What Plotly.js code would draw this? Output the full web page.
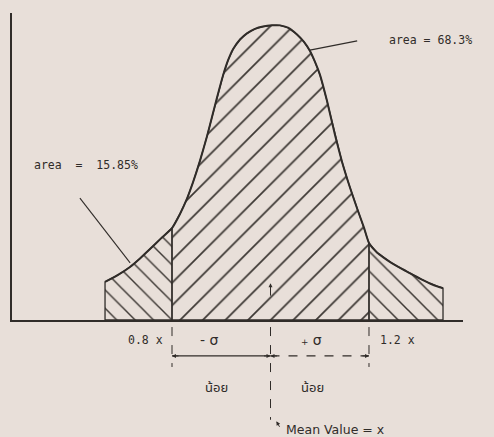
<!DOCTYPE html>
<html>
<head>
<meta charset="utf-8">
<script src="https://cdn.plot.ly/plotly-3.0.1.min.js"></script>
<style>
  html, body { margin: 0; padding: 0; background: #e8dfd9; }
  #chart { width: 494px; height: 437px; }
</style>
</head>
<body>
<div id="chart"></div>
<script>
// Bell-shaped distribution; x in percent of the mean value x (mean = 100, one sigma = 20)
const curveX = [66.40, 69.04, 71.47, 73.50, 75.53, 77.77, 80.00, 81.62, 83.05, 84.26,
                85.69, 87.11, 88.12, 89.14, 90.36, 91.37, 92.39, 93.81, 95.23, 96.85,
                98.48, 100.30, 101.93, 103.55, 105.38, 106.80, 108.02, 109.04, 110.05, 111.47,
                113.10, 114.52, 115.74, 116.75, 117.77, 118.98, 120.00, 121.62, 123.05, 124.47,
                125.69, 127.31, 128.93, 130.56, 132.39, 133.81, 135.03];
const curveY = [12.9, 15.3, 18.0, 20.9, 24.1, 27.7, 31.2, 36.0, 41.2, 46.7,
                54.1, 62.4, 68.9, 75.5, 83.0, 88.1, 91.9, 95.2, 97.3, 98.8,
                99.6, 100.0, 100.0, 99.2, 96.9, 94.4, 91.3, 87.6, 83.2, 74.4,
                62.8, 53.7, 47.0, 41.9, 37.0, 31.4, 26.1, 22.9, 21.1, 19.5,
                18.3, 16.8, 15.3, 13.9, 12.4, 11.4, 10.8];

const meanValue = 100;
const sigmaBounds = [80, 120];           // mean - sigma, mean + sigma
const boundLabels = ['0.8 x', '1.2 x'];
const sigmaLabels = ['- σ', '₊ σ'];
const areaLabels = ['area  =  15.85%', 'area = 68.3%'];
const bandLabel = 'น้อย';
const meanLabel = 'Mean Value = x';

const ink = '#302c29';
const hatchInk = '#3d3834';
const mono = 'DejaVu Sans Mono, Liberation Mono, monospace';
const thai = 'Noto Sans Thai, Noto Sans, DejaVu Sans, sans-serif';

// closed outline of the area under the curve between lo and hi
function band(lo, hi) {
  const xs = [], ys = [];
  curveX.forEach((x, i) => { if (x >= lo && x <= hi) { xs.push(x); ys.push(curveY[i]); } });
  return {
    x: [xs[0], ...xs, xs[xs.length - 1], xs[0]],
    y: [0, ...ys, 0, 0]
  };
}

function hatchTrace(seg, shape, size) {
  return {
    type: 'scatter', mode: 'lines', x: seg.x, y: seg.y,
    fill: 'toself', fillcolor: 'rgba(0,0,0,0)',
    fillpattern: { shape: shape, size: size, solidity: 0.11, fgcolor: hatchInk, bgcolor: 'rgba(0,0,0,0)' },
    line: { color: ink, width: 1.3 },
    hoverinfo: 'skip'
  };
}

const lo = sigmaBounds[0], hi = sigmaBounds[1];
const traces = [
  hatchTrace(band(-Infinity, lo), '\\', 13),
  hatchTrace(band(lo, hi), '/', 16),
  hatchTrace(band(hi, Infinity), '\\', 14),
  {
    type: 'scatter', mode: 'lines', x: curveX, y: curveY,
    line: { color: ink, width: 2, shape: 'spline', smoothing: 0.5 },
    hoverinfo: 'skip'
  }
];

// rows under the axis, in paper units
const rowTicksTop = -0.023, rowTicksBottom = -0.153;
const rowLabels = -0.065, rowArrow = -0.117, rowBand = -0.2215;
const rowMeanEnd = -0.325, rowMeanText = -0.358;

const vline = (x, y0, y1, dash) => ({
  type: 'line', xref: 'x', yref: 'paper', x0: x, x1: x, y0: y0, y1: y1,
  line: { color: ink, width: 1, dash: dash }
});

const shapes = [
  vline(lo, rowTicksTop, rowTicksBottom, 'dash'),
  vline(hi, rowTicksTop, rowTicksBottom, 'dash'),
  vline(meanValue, rowTicksTop, rowMeanEnd, 'dash'),
  // sigma spans
  { type: 'line', xref: 'x', yref: 'paper', x0: lo, x1: meanValue, y0: rowArrow, y1: rowArrow,
    line: { color: ink, width: 1.2 } },
  { type: 'line', xref: 'x', yref: 'paper', x0: meanValue, x1: hi, y0: rowArrow, y1: rowArrow,
    line: { color: ink, width: 1.2, dash: 'dash' } },
  // leader lines for the area notes
  { type: 'line', xref: 'x', yref: 'paper', x0: 108.0, x1: 117.6, y0: 0.879, y1: 0.909,
    line: { color: ink, width: 1.3 } },
  { type: 'line', xref: 'x', yref: 'paper', x0: 61.3, x1: 71.5, y0: 0.397, y1: 0.186,
    line: { color: ink, width: 1.1 } }
];

const txt = (extra) => Object.assign({
  showarrow: false, yanchor: 'middle', font: { family: mono, size: 11.5, color: ink }
}, extra);
const head = (x, y, ax, ay) => ({
  xref: 'x', yref: 'paper', x: x, y: y, ax: ax, ay: ay, axref: 'pixel', ayref: 'pixel',
  text: '', showarrow: true, arrowhead: 2, arrowsize: 0.8, arrowwidth: 1, arrowcolor: ink
});

const annotations = [
  txt({ xref: 'x', yref: 'paper', x: lo, y: rowLabels, xanchor: 'right', xshift: -7, text: boundLabels[0] }),
  txt({ xref: 'x', yref: 'paper', x: hi, y: rowLabels, xanchor: 'left', xshift: 9, text: boundLabels[1] }),
  txt({ xref: 'x', yref: 'paper', x: (lo + meanValue) / 2, y: rowLabels, xanchor: 'center', xshift: -12,
        text: sigmaLabels[0], font: { family: 'DejaVu Sans', size: 14, color: ink } }),
  txt({ xref: 'x', yref: 'paper', x: (meanValue + hi) / 2, y: rowLabels, xanchor: 'center', xshift: -8,
        text: sigmaLabels[1], font: { family: 'DejaVu Sans', size: 14, color: ink } }),
  txt({ xref: 'x', yref: 'paper', x: (lo + meanValue) / 2, y: rowBand, xanchor: 'center', xshift: -5,
        text: bandLabel, font: { family: thai, size: 13, color: ink } }),
  txt({ xref: 'x', yref: 'paper', x: (meanValue + hi) / 2, y: rowBand, xanchor: 'center', xshift: -7,
        text: bandLabel, font: { family: thai, size: 13, color: ink } }),
  txt({ xref: 'x', yref: 'paper', x: meanValue, y: rowMeanText, xanchor: 'left', xshift: 13, text: meanLabel,
        font: { family: 'DejaVu Sans', size: 12.5, color: ink } }),
  txt({ xref: 'paper', yref: 'paper', x: 0.044, y: 0.505, xanchor: 'left', text: areaLabels[0] }),
  txt({ xref: 'paper', yref: 'paper', x: 0.831, y: 0.912, xanchor: 'left', text: areaLabels[1] }),
  // arrowheads on the sigma spans
  head(lo, rowArrow, 8, 0),
  head(meanValue, rowArrow, -8, 0),
  head(meanValue, rowArrow, 8, 0),
  head(hi, rowArrow, -8, 0),
  // mean marker arrows
  head(meanValue + 1.2, rowMeanEnd - 0.005, 4, 7),
  head(meanValue, 0.12, 0, 14)
];

const layout = {
  width: 494, height: 437,
  margin: { l: 12, r: 31, t: 13, b: 117 },
  paper_bgcolor: '#e8dfd9', plot_bgcolor: 'rgba(0,0,0,0)',
  showlegend: false,
  xaxis: { range: [47.51, 139.09], showgrid: false, zeroline: false, showticklabels: false, ticks: '',
           showline: true, linecolor: ink, linewidth: 2 },
  yaxis: { range: [0, 104.2], showgrid: false, zeroline: false, showticklabels: false, ticks: '',
           showline: true, linecolor: ink, linewidth: 2 },
  shapes: shapes,
  annotations: annotations
};

Plotly.newPlot('chart', traces, layout, { displayModeBar: false, staticPlot: true });
</script>
</body>
</html>
